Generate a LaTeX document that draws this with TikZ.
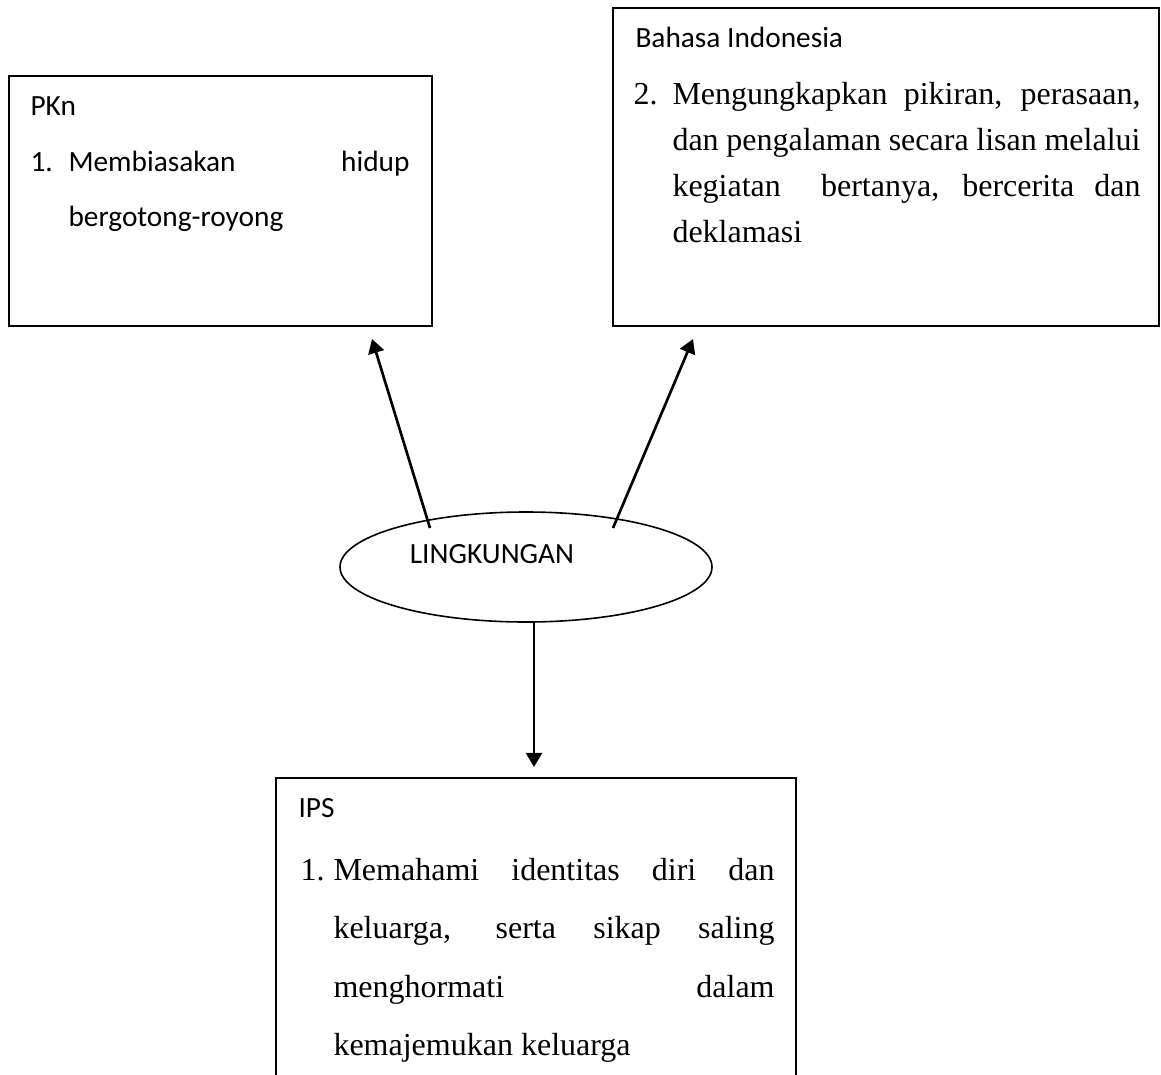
\documentclass[tikz,border=0pt]{standalone}
\usepackage{fontspec}
\setmainfont{Liberation Serif}
\newfontfamily\calibrifont{Carlito}
\newcommand{\calibritext}{\calibrifont\fontsize{11}{13}\selectfont}
\usetikzlibrary{arrows.meta,shapes.geometric}

\begin{document}
\begin{tikzpicture}[x=0.375pt, y=-0.375pt, font=\fontsize{12}{14}\selectfont, >={Triangle[width=6pt,length=5.3pt]}]
	\tikzset{panel/.style={draw, line width=0.75pt, inner sep=0pt},
		header/.style={anchor=base west, inner sep=0pt, font=\calibritext},
		item/.style={anchor=base west, inner sep=0pt},
		link/.style={->, line width=1pt}}
	\clip (0,0) rectangle (1161,1075);
	% boxes
	\node[panel, minimum width=158.6pt, minimum height=93.75pt] (pkn) at (220.5,201) {};
	\node[panel, minimum width=204.75pt, minimum height=119.25pt] (bind) at (886,167) {};
	\node[panel, minimum width=195pt, minimum height=120.75pt] (ips) at (536,939) {};
	\node[draw, ellipse, line width=0.6pt, inner sep=0pt, minimum width=139.5pt, minimum height=41.25pt] (lingk) at (526,567) {};
	\node[header, anchor=center] (lingk-text) at (492,554) {LINGKUNGAN};
	% PKn
	\node[header] (pkn-title) at (30,115) {PKn};
	\node[item, font=\calibritext] (pkn-num) at (30,171) {1.};
	\node[item, font=\calibritext] (pkn-text) at (68,171) {\parbox[t]{127.9pt}{\baselineskip=20.8pt
		\makebox[127.9pt][s]{Membiasakan hidup}\\
		bergotong-royong}};
	% Bahasa Indonesia
	\node[header] (bind-title) at (635,47) {Bahasa Indonesia};
	\node[item] (bind-num) at (633,104) {2.};
	\node[item] (bind-text) at (672,104) {\parbox[t]{175.5pt}{\baselineskip=17.25pt
		\makebox[175.5pt][s]{Mengungkapkan pikiran, perasaan,}\\
		\makebox[175.5pt][s]{dan pengalaman secara lisan melalui}\\
		\makebox[175.5pt][s]{kegiatan\ \ bertanya, bercerita dan}\\
		deklamasi}};
	% IPS
	\node[header] (ips-title) at (298,817) {IPS};
	\node[item] (ips-num) at (300,880) {1.};
	\node[item] (ips-text) at (333,880) {\parbox[t]{165.4pt}{\baselineskip=21.94pt
		\makebox[165.4pt][s]{Memahami identitas diri dan}\\
		\makebox[165.4pt][s]{keluarga, serta sikap saling}\\
		\makebox[165.4pt][s]{menghormati dalam}\\
		kemajemukan keluarga}};
	% arrows
	\draw[link] ([shift={(-96,-39)}]lingk.center) -- ([shift={(151.5,12)}]pkn.south);
	\draw[link] ([shift={(87,-39)}]lingk.center) -- ([shift={(-193,12)}]bind.south);
	\draw[link] ([shift={(8,-2)}]lingk.south) -- ([shift={(-2,-10)}]ips.north);
\end{tikzpicture}
\end{document}
